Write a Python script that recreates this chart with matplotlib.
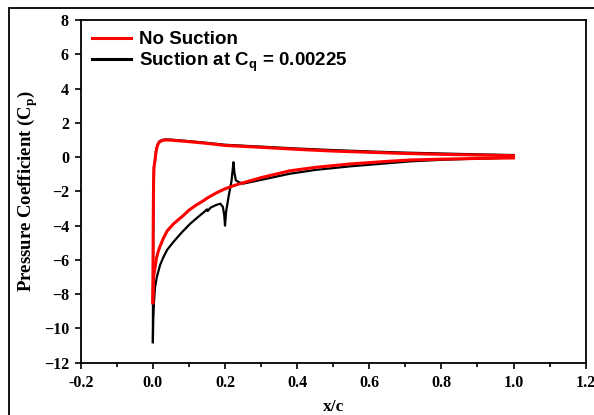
import numpy as np
import matplotlib
matplotlib.use('Agg')
import matplotlib.pyplot as plt
from matplotlib.patches import Rectangle
from matplotlib.ticker import MultipleLocator

# ---- data (x/c, Cp) ----
# no suction, suction side (upper surface) from leading edge to trailing edge
ns_up_x = [0.0, 0.002, 0.0064, 0.01, 0.015, 0.02, 0.03, 0.04, 0.057, 0.085, 0.1, 0.12, 0.14, 0.15,
           0.175, 0.2, 0.225, 0.25, 0.3, 0.38, 0.45, 0.547, 0.65, 0.713, 0.8, 0.9, 1.0]
ns_up_cp = [-8.5, -7.0, -6.4, -5.9, -5.5, -5.2, -4.7, -4.3, -3.9, -3.4, -3.1, -2.8, -2.55, -2.4,
            -2.1, -1.85, -1.66, -1.5, -1.2, -0.8, -0.6, -0.4, -0.25, -0.17, -0.12, -0.08, -0.05]
# no suction, pressure side (lower surface)
ns_lo_x = [0.0, 0.0005, 0.001, 0.0015, 0.002, 0.003, 0.006, 0.009, 0.013, 0.018, 0.026, 0.035,
           0.05, 0.06, 0.1, 0.15, 0.2, 0.3, 0.4, 0.5, 0.6, 0.7, 0.8, 0.9, 1.0]
ns_lo_cp = [-8.5, -6.0, -4.0, -2.5, -1.5, -0.6, -0.2, 0.35, 0.7, 0.88, 0.97, 1.0,
            0.99, 0.97, 0.9, 0.8, 0.68, 0.57, 0.45, 0.35, 0.28, 0.21, 0.16, 0.12, 0.08]

# suction at Cq = 0.00225
s_up_x = [0.0, 0.001, 0.003, 0.006, 0.011, 0.02, 0.029, 0.04, 0.057, 0.08, 0.103, 0.125, 0.145,
          0.15, 0.152, 0.16, 0.175, 0.187, 0.194, 0.198, 0.2, 0.203, 0.21, 0.218, 0.222, 0.2235,
          0.226, 0.23, 0.237, 0.25, 0.3, 0.38, 0.45, 0.547, 0.65, 0.713, 0.8, 0.9, 1.0]
s_up_cp = [-10.8, -9.5, -8.5, -7.6, -7.0, -6.3, -5.85, -5.4, -4.95, -4.4, -3.9, -3.5, -3.15,
           -3.05, -3.15, -2.95, -2.8, -2.72, -2.9, -3.4, -4.0, -3.2, -2.3, -1.4, -0.6, -0.3,
           -0.9, -1.35, -1.45, -1.55, -1.33, -0.97, -0.75, -0.54, -0.36, -0.25, -0.16, -0.09, -0.03]
s_lo_x = [0.0, 0.0005, 0.001, 0.0015, 0.002, 0.003, 0.006, 0.009, 0.013, 0.018, 0.026, 0.035,
          0.05, 0.06, 0.1, 0.15, 0.2, 0.3, 0.4, 0.5, 0.6, 0.7, 0.8, 0.9, 1.0]
s_lo_cp = [-10.8, -7.0, -4.5, -2.8, -1.7, -0.6, -0.15, 0.4, 0.74, 0.92, 1.0, 1.03,
           1.02, 1.0, 0.93, 0.83, 0.72, 0.61, 0.5, 0.41, 0.33, 0.26, 0.21, 0.16, 0.12]

fig = plt.figure(figsize=(5.94, 4.15), dpi=100)
ax = fig.add_axes([0.1359, 0.126, 0.986 - 0.1359, 0.9518 - 0.126])

# outer frame around the figure
fig.add_artist(Rectangle((8.5 / 594, -0.1), 1.2, 1.1 - 8.5 / 415, transform=fig.transFigure,
                         fill=False, edgecolor='black', linewidth=1.3))

ax.plot(s_up_x, s_up_cp, color='black', lw=1.6)
ax.plot(s_lo_x, s_lo_cp, color='black', lw=1.6)
l_ns, = ax.plot(ns_up_x, ns_up_cp, color='red', lw=2.2)
ax.plot(ns_lo_x, ns_lo_cp, color='red', lw=2.2)
l_s, = ax.plot([], [], color='black', lw=2.2)

ax.set_xlim(-0.2, 1.2)
ax.set_ylim(-12, 8)
ax.xaxis.set_major_locator(MultipleLocator(0.2))
ax.xaxis.set_minor_locator(MultipleLocator(0.1))
ax.yaxis.set_major_locator(MultipleLocator(2))
ax.tick_params(which='both', direction='out', top=False, right=False, width=1.2)
ax.tick_params(which='major', length=4.5, pad=4)
ax.tick_params(which='minor', length=3)
for sp in ax.spines.values():
    sp.set_linewidth(1.3)

ax.set_xticks(np.arange(-0.2, 1.21, 0.2))
ax.set_xticklabels(['%.1f' % v for v in np.arange(-0.2, 1.21, 0.2)])
for lab in ax.get_xticklabels() + ax.get_yticklabels():
    lab.set_fontfamily('Liberation Serif')
    lab.set_fontweight('bold')
    lab.set_fontsize(11.5)

ax.set_xlabel('x/c', fontfamily='Liberation Serif', fontweight='bold', fontsize=12.5, labelpad=6)
ax.set_ylabel('Pressure Coefficient (C$_\\mathregular{p}$)', fontfamily='Liberation Serif',
              fontweight='bold', fontsize=13.5, labelpad=3)

ax.legend([l_ns, l_s], ['No Suction', 'Suction at C$_\\mathregular{q}$ = 0.00225'],
          loc='upper left', frameon=False, handlelength=2.1, handletextpad=0.43,
          borderaxespad=0.2, labelspacing=0.12,
          prop={'family': 'Liberation Sans', 'weight': 'bold', 'size': 13.5})

fig.savefig('out.png', dpi=100)
